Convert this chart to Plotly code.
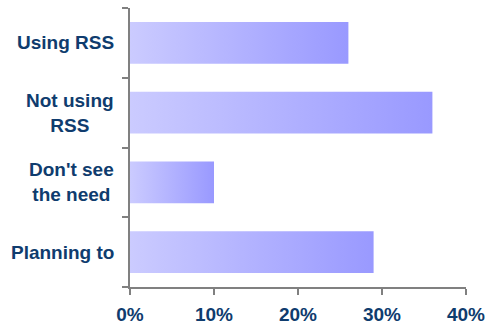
import plotly.graph_objects as go

# Survey responses (share of respondents, %)
categories = ["Using RSS", "Not using<br>RSS", "Don't see<br>the need", "Planning to"]
values = [26, 36, 10, 29]

x_ticks = [0, 10, 20, 30, 40]
x_tick_labels = ["0%", "10%", "20%", "30%", "40%"]

navy = "#0f3c6e"
axis_grey = "#808080"
half = 0.3
label_font = dict(family="Liberation Sans, Arial, sans-serif", size=19,
                  color=navy, weight="bold")

fig = go.Figure()

# Each bar is a filled rectangle so it can carry a left-to-right gradient
for i, v in enumerate(values):
    fig.add_trace(go.Scatter(
        x=[0, v, v, 0, 0],
        y=[i - half, i - half, i + half, i + half, i - half],
        mode="lines",
        line=dict(width=0),
        fill="toself",
        fillgradient=dict(type="horizontal",
                          colorscale=[[0, "#cbcbff"], [1, "#9999ff"]]),
        hoverinfo="skip",
        showlegend=False,
    ))

# Category labels, centred line by line
for i, c in enumerate(categories):
    fig.add_annotation(
        x=0, xref="paper", y=i, yref="y",
        xanchor="right", yanchor="middle", xshift=-14,
        text=c, align="center", showarrow=False,
        font=label_font,
    )

fig.update_layout(
    width=488, height=326,
    margin=dict(l=130, r=22, t=8, b=39),
    paper_bgcolor="white", plot_bgcolor="white",
    xaxis=dict(
        range=[0, 40], tickvals=x_ticks, ticktext=x_tick_labels,
        showgrid=False, zeroline=False,
        showline=True, linecolor=axis_grey, linewidth=2,
        ticks="outside", ticklen=6, tickwidth=2, tickcolor=axis_grey,
        ticklabelstandoff=3,
        tickfont=label_font,
        automargin=False,
        fixedrange=True,
    ),
    yaxis=dict(
        range=[3.5, -0.5],
        tickvals=[-0.5, 0.5, 1.5, 2.5, 3.5], ticktext=["", "", "", "", ""],
        showgrid=False, zeroline=False,
        showline=True, linecolor=axis_grey, linewidth=2,
        ticks="outside", ticklen=6, tickwidth=2, tickcolor=axis_grey,
        automargin=False,
        fixedrange=True,
    ),
)

fig.write_html("out.html")
